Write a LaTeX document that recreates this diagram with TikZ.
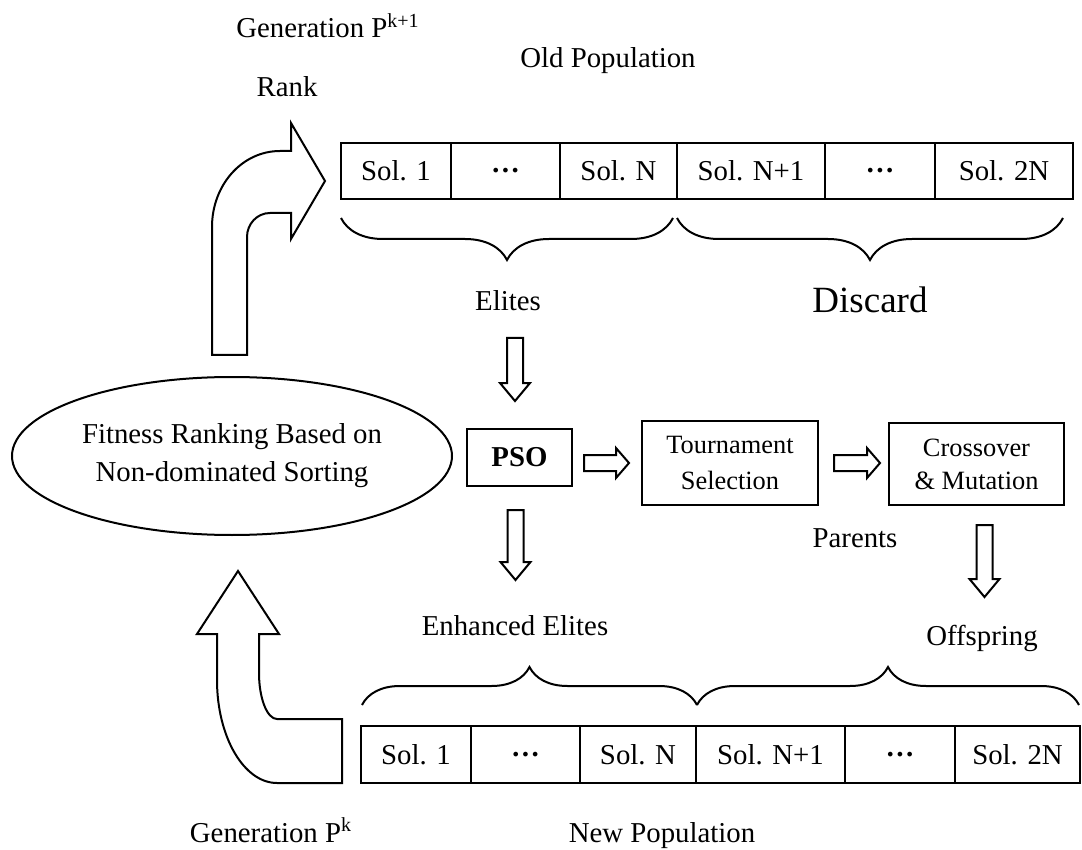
\documentclass[tikz,border=0pt]{standalone}
\usepackage{fontspec}
\setmainfont{Liberation Serif}
\usetikzlibrary{positioning,calc,shapes.geometric,decorations.pathreplacing}
\tikzset{
  ink/.style={draw=black,line width=1pt},
  cell/.style={ink,minimum height=28pt,inner sep=0pt,outer sep=0pt,
               font=\fontsize{14.4}{17}\selectfont},
  box/.style={ink,inner sep=0pt,align=center},
  caption/.style={font=\fontsize{14.4}{17}\selectfont,anchor=base,inner sep=0pt},
  bigcaption/.style={caption,font=\fontsize{18.5}{22}\selectfont},
  bracetop/.style={ink,decorate,decoration={brace,mirror,amplitude=21pt}},
  bracebot/.style={ink,decorate,decoration={brace,amplitude=19pt}},
  blockarrow/.style={ink,fill=white,line join=miter},
  bentarrow/.style={ink,fill=white,line join=miter},
}
% hollow block arrows, start point and tip point
\newcommand{\hblock}[2]{%
  \path[blockarrow] let \p1=#1, \p2=#2 in
    (\x1,{\y1+4pt}) -- ({\x2-6.5pt},{\y1+4pt}) -- ({\x2-6.5pt},{\y1+7.5pt})
    -- (\x2,\y1) -- ({\x2-6.5pt},{\y1-7.5pt}) -- ({\x2-6.5pt},{\y1-4pt})
    -- (\x1,{\y1-4pt}) -- cycle;}
\newcommand{\vblock}[2]{%
  \path[blockarrow] let \p1=#1, \p2=#2 in
    ({\x1-4pt},\y1) -- ({\x1-4pt},{\y2+9pt}) -- ({\x1-7.5pt},{\y2+9pt})
    -- (\x1,\y2) -- ({\x1+7.5pt},{\y2+9pt}) -- ({\x1+4pt},{\y2+9pt})
    -- ({\x1+4pt},\y1) -- cycle;}

\begin{document}
\begin{tikzpicture}[x=0.5pt,y=-0.5pt]
    \useasboundingbox[fill=white] (0,0) rectangle (1082,850);

    % old population
    \node[caption] (genold) at (328,38) {Generation P\textsuperscript{k+1}};
    \node[caption] (rank) at (287,97) {Rank};
    \node[caption] (oldpop) at (608,68) {Old Population};
    \node[cell,minimum width=55pt,anchor=west] (o1) at (341,171) {Sol. 1};
    \node[cell,minimum width=54.5pt,right=0pt of o1] (o2) {\textbf{\ldots}};
    \node[cell,minimum width=58.5pt,right=0pt of o2] (o3) {Sol. N};
    \node[cell,minimum width=74pt,right=0pt of o3] (o4) {Sol. N+1};
    \node[cell,minimum width=55pt,right=0pt of o4] (o5) {\textbf{\ldots}};
    \node[cell,minimum width=69pt,right=0pt of o5] (o6) {Sol. 2N};
    \draw[bracetop] ($(o1.south west)+(0,19)$) -- ($(o3.south east)+(-4,19)$);
    \draw[bracetop] ($(o4.south west)+(0,19)$) -- ($(o6.south east)+(-10,19)$);
    \node[caption] (elites) at (508,311) {Elites};
    \node[bigcaption] (discard) at (870,313) {Discard};

    % ranking and the operators
    \node[ink,ellipse,minimum width=220pt,minimum height=79pt,inner sep=0pt,align=center,
          font=\fontsize{14.4}{19}\selectfont] (ranking) at (232,456)
      {Fitness Ranking Based on\\Non-dominated Sorting};
    \node[box,minimum width=52.5pt,minimum height=28.5pt,
          font=\fontsize{14.4}{17}\selectfont\bfseries] (pso) at (519.5,457.5) {PSO};
    \node[box,minimum width=88pt,minimum height=42pt,
          font=\fontsize{13.2}{17.8}\selectfont] (tour) at (730,463) {Tournament\\Selection};
    \node[box,minimum width=87.5pt,minimum height=41pt,
          font=\fontsize{13.2}{16.5}\selectfont] (cross) at (976.5,464) {Crossover\\\& Mutation};
    \node[caption] (parents) at (855,547) {Parents};
    \node[caption] (enh) at (515,635) {Enhanced Elites};
    \node[caption] (off) at (982,645) {Offspring};

    \vblock{($(elites.base)+(7,27)$)}{($(pso.north)+(0,-27)$)}
    \hblock{($(pso.east |- tour.west)+(11,0)$)}{($(tour.west)+(-12,0)$)}
    \hblock{($(tour.east)+(15,0)$)}{($(cross.west)+(-8,0)$)}
    \vblock{($(pso.south)+(-4,23)$)}{($(enh.base)+(0,-55)$)}
    \vblock{($(cross.south)+(8,19)$)}{($(off.base)+(0,-48)$)}

    % new population
    \node[cell,minimum width=55pt,minimum height=28.5pt,anchor=west] (n1) at (361,754.5) {Sol. 1};
    \node[cell,minimum width=54.5pt,minimum height=28.5pt,right=0pt of n1] (n2) {\textbf{\ldots}};
    \node[cell,minimum width=58pt,minimum height=28.5pt,right=0pt of n2] (n3) {Sol. N};
    \node[cell,minimum width=74.5pt,minimum height=28.5pt,right=0pt of n3] (n4) {Sol. N+1};
    \node[cell,minimum width=55pt,minimum height=28.5pt,right=0pt of n4] (n5) {\textbf{\ldots}};
    \node[cell,minimum width=62.5pt,minimum height=28.5pt,right=0pt of n5] (n6) {Sol. 2N};
    \draw[bracebot] ($(n1.north west)+(1,-21)$) -- ($(n3.north east)+(1,-21)$);
    \draw[bracebot] ($(n4.north west)+(1,-21)$) -- ($(n6.north east)+(-1,-21)$);
    \node[caption] (gennew) at (271,842) {Generation P\textsuperscript{k}};
    \node[caption] (newpop) at (662,842) {New Population};

    % bent arrows round the loop
    \draw[bentarrow] (212,355) -- (212,227) .. controls (212,185) and (242,151) .. (280,151)
      -- (291,151) -- (291,123) -- (325,181) -- (291,239) -- (291,213) -- (270,213)
      .. controls (257,213) and (247,224) .. (247,237) -- (247,355) -- cycle;
    \draw[bentarrow] (238,571) -- (279,634) -- (259,634) -- (259,673)
      .. controls (259,698) and (267,719) .. (277,719) -- (342,719) -- (342,783) -- (277,783)
      .. controls (244,783) and (217,737) .. (217,680) -- (217,634) -- (197,634) -- cycle;
\end{tikzpicture}
\end{document}
